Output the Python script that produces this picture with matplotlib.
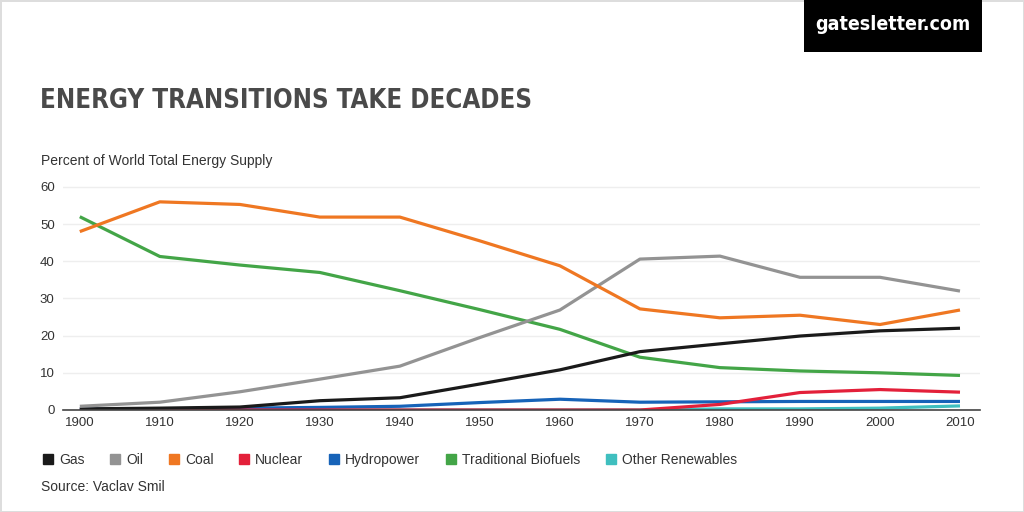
import numpy as np
import matplotlib.pyplot as plt
from matplotlib.lines import Line2D
from matplotlib.patches import Rectangle

years = [1900, 1910, 1920, 1930, 1940, 1950, 1960, 1970, 1980, 1990, 2000, 2010]

gas = [0.3, 0.5, 0.8, 2.5, 3.3, 7.0, 10.8, 15.7, 17.8, 19.9, 21.3, 22.0]
oil = [1.0, 2.1, 4.9, 8.3, 11.8, 19.5, 26.9, 40.6, 41.4, 35.7, 35.7, 32.0]
coal = [48.0, 56.0, 55.3, 51.9, 51.9, 45.5, 38.8, 27.2, 24.8, 25.5, 23.0, 26.9]
nuclear = [0, 0, 0, 0, 0, 0, 0, 0, 1.5, 4.7, 5.5, 4.8]
hydro = [0.2, 0.3, 0.5, 0.7, 1.0, 2.0, 2.9, 2.1, 2.2, 2.3, 2.3, 2.3]
biofuels = [52.0, 41.3, 39.0, 37.0, 32.1, 27.0, 21.7, 14.2, 11.4, 10.5, 10.0, 9.3]
other = [0, 0, 0, 0, 0, 0, 0, 0, 0.3, 0.3, 0.5, 1.1]

names = ["Gas", "Oil", "Coal", "Nuclear", "Hydropower",
         "Traditional Biofuels", "Other Renewables"]
colors = ["#1a1a1a", "#939393", "#ef7722", "#e3203a", "#1763b8",
          "#43a547", "#3fbfbf"]
series = [gas, oil, coal, nuclear, hydro, biofuels, other]

txt = "#333333"
plt.rcParams['font.family'] = ['Liberation Sans', 'DejaVu Sans']

fig = plt.figure(figsize=(10.24, 5.12), dpi=100)
fig.patch.set_edgecolor("#dddddd")
fig.patch.set_linewidth(2)

ax = fig.add_axes([63/1024, (512-410)/512, (980-63)/1024, 62*3.717/512])

# draw back to front like the original
order = [6, 4, 3, 5, 0, 1, 2]
for k, i in enumerate(order):
    ax.plot(years, series[i], color=colors[i], lw=2.3, solid_capstyle="butt",
            zorder=3 + k * 0.1)

ax.set_xlim(1897.9, 2012.5)
ax.set_ylim(0, 62)
ax.set_xticks(years)
ax.set_yticks([0, 10, 20, 30, 40, 50, 60])
ax.grid(axis="y", color="#eeeeee", lw=1)
ax.set_axisbelow(True)
for s in ["top", "right", "left"]:
    ax.spines[s].set_visible(False)
ax.spines["bottom"].set_color("#444444")
ax.spines["bottom"].set_linewidth(1.2)
ax.spines["bottom"].set_zorder(10)
ax.tick_params(length=0, labelsize=9.5, labelcolor=txt)
ax.tick_params(axis="y", pad=6)
ax.tick_params(axis="x", pad=5)

# header
fig.text(40/1024, 1 - 101/512, "ENERGY TRANSITIONS TAKE DECADES",
         fontsize=18.5, fontweight="bold", family="DejaVu Sans",
         fontstretch="condensed", color="#4a4a4a", va="center", ha="left")
fig.text(41/1024, 1 - 161/512, "Percent of World Total Energy Supply",
         fontsize=10, color=txt, va="center", ha="left")

fig.patches.append(Rectangle((804/1024, 1 - 52/512), 178/1024, 52/512,
                             transform=fig.transFigure, facecolor="black",
                             edgecolor="none"))
fig.text(893/1024, 1 - 25/512, "gatesletter.com", fontsize=14,
         fontweight="bold", family="DejaVu Sans", fontstretch="condensed",
         color="white", va="center", ha="center")

# legend
handles = [Line2D([], [], ls="none", marker="s", markersize=7,
                  color=c) for c in colors]
fig.legend(handles, names, loc="center left",
           bbox_to_anchor=(30/1024, 1 - 460/512), ncol=7, frameon=False,
           fontsize=10, handlelength=0.8, handletextpad=0.4,
           columnspacing=1.8, labelcolor=txt)

fig.text(41/1024, 1 - 487/512, "Source: Vaclav Smil", fontsize=10,
         color=txt, va="center", ha="left")

fig.savefig("out.png", dpi=100)
